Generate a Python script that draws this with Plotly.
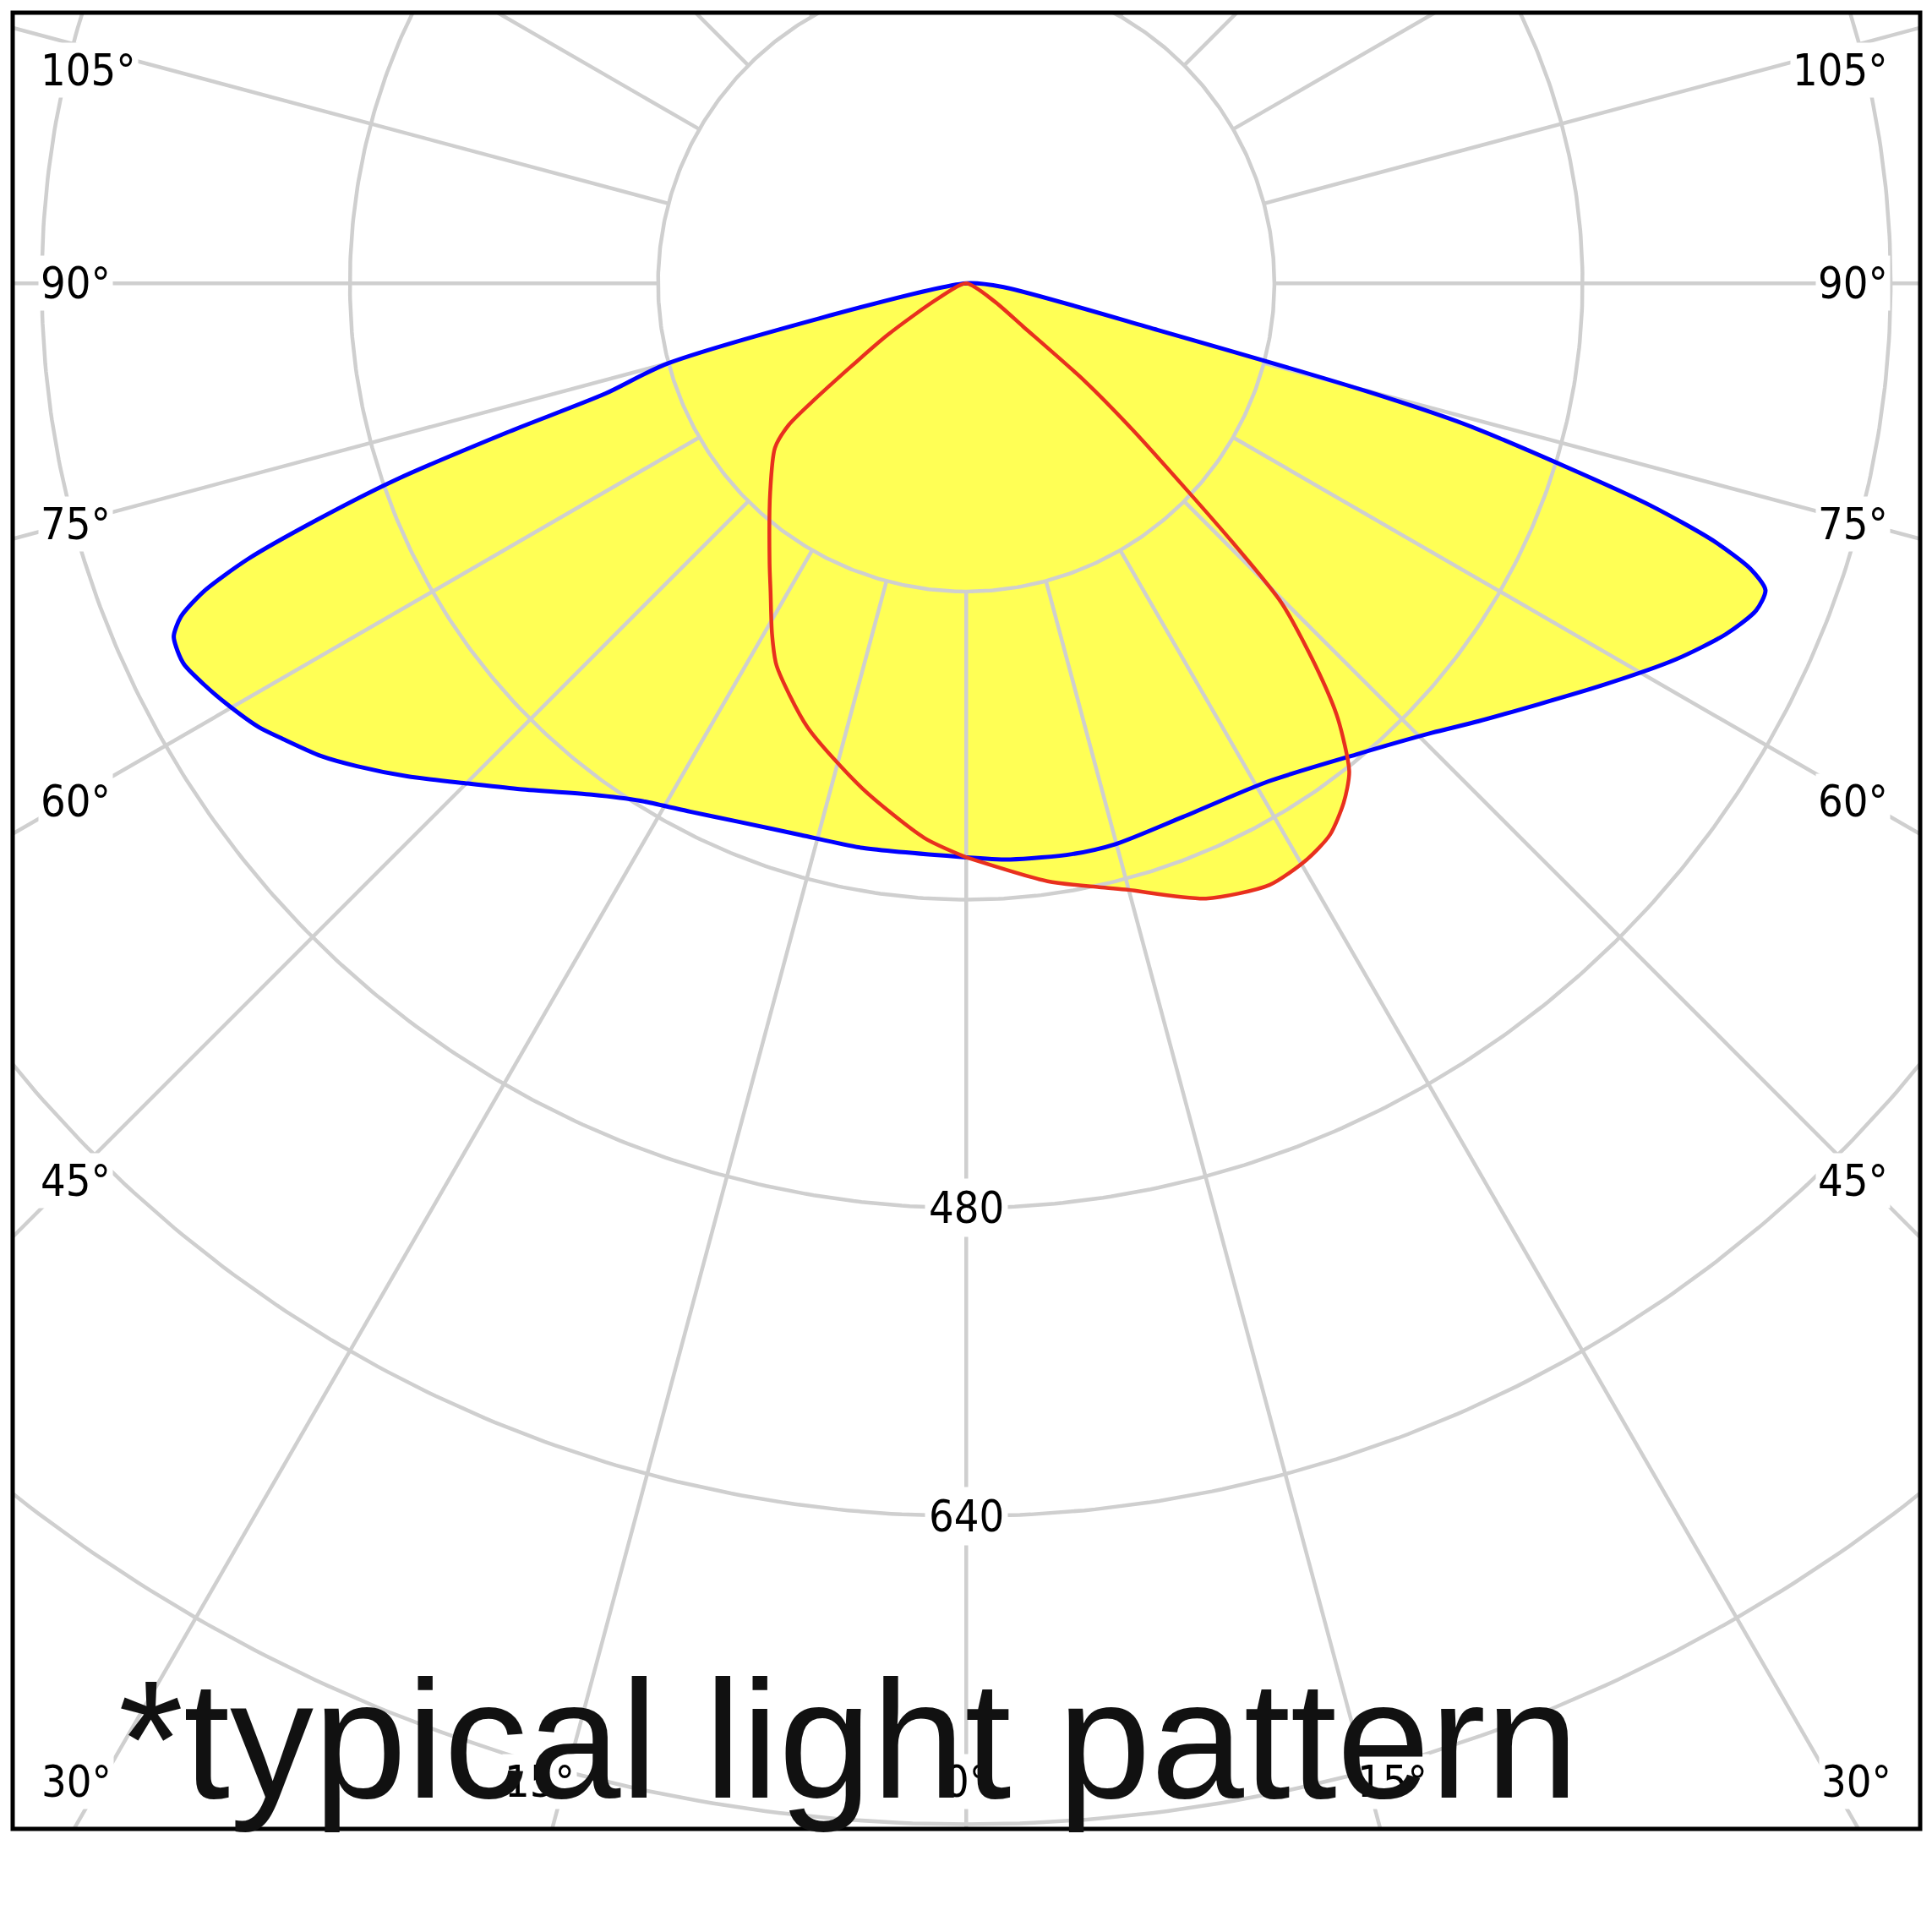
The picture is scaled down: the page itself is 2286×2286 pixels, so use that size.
import numpy as np
import plotly.graph_objects as go

# ---------------- data ----------------
# C0-C180 plane (blue). gamma in degrees from nadir, intensity in cd/klm
blue_left_gamma = [90, 75, 73, 72, 71, 70, 69, 68, 67, 66, 65, 64, 62.3, 60.3, 57.9, 56.3,
                   53.8, 51.6, 48.6, 44.9, 41.6, 36.2, 32.2, 27.6, 22.9, 16.7, 10.4, 0]
blue_left_I = [0, 160, 196, 251, 313, 358, 399.5, 427, 443, 450.4, 451.8, 451.7, 447.4, 441.5,
               433.6, 426.4, 415.4, 403.6, 387, 366.6, 351, 329, 317.5, 309.5, 303.5, 299, 298, 298]
blue_right_gamma = [0, 4.4, 10.5, 14.9, 22.1, 31.2, 39.6, 46, 49.5, 57.7, 62.1, 65.2, 67.5,
                    69, 70, 71, 72, 73, 74.2, 74.9, 76.3, 84, 90]
blue_right_I = [298, 300, 301.4, 301.3, 299, 302.4, 317.5, 336, 350, 390.6, 417.1, 434.4,
                443.9, 444.5, 433.3, 410, 374, 325, 270, 216, 102.5, 20, 0]

# C90-C270 plane (red)
red_left_gamma = [90, 61.6, 56.7, 52.5, 51.4, 49.3, 43.1, 35, 32.4, 29, 26.4, 19.7, 11.6, 4.3, 0]
red_left_I = [0, 16.6, 49, 100, 118, 131, 149, 178, 189.6, 208, 221.5, 244.7, 267.8, 288.8, 298]
red_right_gamma = [0, 7.75, 12.4, 14.9, 21.3, 26.75, 30.6, 33.4, 36, 38.1, 40.5, 42.2, 44.6,
                   45.8, 46.8, 48.6, 50.5, 52.8, 57.4, 90]
red_right_I = [298, 313.3, 321, 325.8, 342.8, 349.8, 347.5, 343, 333.4, 322.3, 297.1, 272.3,
               233.5, 192.8, 158.9, 116.1, 79.4, 37, 17.4, 0]

ring_values = [160, 320, 480, 640, 800]
ring_labels = [480, 640]
spoke_step = 15
side_label_angles = [45, 60, 75, 90, 105]
bottom_label_angles = [0, 15, 30]
note_text = "*typical light pattern"

# ---------------- geometry / style ----------------
W = H = 2278
ML, MR, MT, MB = 7, 14, 7, 122
X_RANGE = [-495.1, 495.3]
Y_RANGE = [-802.4, 140.5]
FILL = "#FFFF55"
GRID = "#CFCFCF"
LABEL_FONT = dict(family="DejaVu Sans Condensed, DejaVu Sans, sans-serif", size=52, color="#000000")


def to_xy(left_g, left_i, right_g, right_i):
    lg = np.radians(np.array(left_g, float))
    rg = np.radians(np.array(right_g, float))
    li = np.array(left_i, float)
    ri = np.array(right_i, float)
    x = np.concatenate([-li * np.sin(lg), ri * np.sin(rg)])
    y = np.concatenate([-li * np.cos(lg), -ri * np.cos(rg)])
    return x, y


bx, by = to_xy(blue_left_gamma, blue_left_I, blue_right_gamma, blue_right_I)
rx, ry = to_xy(red_left_gamma, red_left_I, red_right_gamma, red_right_I)

SMOOTH = 0.7
fig = go.Figure()

# fills
for x, y in [(bx, by), (rx, ry)]:
    fig.add_trace(go.Scatter(x=x, y=y, mode="lines", fill="toself", fillcolor=FILL,
                             line=dict(width=0, color=FILL, shape="spline", smoothing=SMOOTH),
                             hoverinfo="skip", showlegend=False))

# grid rings
t = np.linspace(0, 2 * np.pi, 721)
for r in ring_values:
    fig.add_trace(go.Scatter(x=r * np.sin(t), y=-r * np.cos(t), mode="lines",
                             line=dict(color=GRID, width=4.5), hoverinfo="skip", showlegend=False))
# spokes (from the first ring outward)
sx, sy = [], []
for a in range(0, 360, spoke_step):
    ar = np.radians(a)
    for rr in (ring_values[0], 2000):
        sx.append(rr * np.sin(ar))
        sy.append(-rr * np.cos(ar))
    sx.append(None)
    sy.append(None)
fig.add_trace(go.Scatter(x=sx, y=sy, mode="lines", line=dict(color=GRID, width=4.5),
                         hoverinfo="skip", showlegend=False))

# curves
fig.add_trace(go.Scatter(x=bx, y=by, mode="lines",
                         line=dict(color="#0000FF", width=5, shape="spline", smoothing=SMOOTH),
                         hoverinfo="skip", showlegend=False))
fig.add_trace(go.Scatter(x=rx, y=ry, mode="lines",
                         line=dict(color="#E8301E", width=4.5, shape="spline", smoothing=SMOOTH),
                         hoverinfo="skip", showlegend=False))

annotations = []
# side angle labels
xc = 466
for a in side_label_angles:
    ar = np.radians(a)
    yv = -xc * np.cos(ar) / np.sin(ar)
    yv = min(yv, Y_RANGE[1] - 30)
    annotations.append(dict(x=-482, y=yv, text=f"{a}°", xanchor="left", yanchor="middle",
                            showarrow=False, font=LABEL_FONT, bgcolor="white", borderpad=2))
    annotations.append(dict(x=480, y=yv, text=f"{a}°", xanchor="right", yanchor="middle",
                            showarrow=False, font=LABEL_FONT, bgcolor="white", borderpad=2))
# bottom angle labels
yb = -778
for a in bottom_label_angles:
    xv = -yb * np.tan(np.radians(a))
    if a == 0:
        annotations.append(dict(x=0, y=yb, text=f"{a}°", xanchor="center", yanchor="middle",
                                showarrow=False, font=LABEL_FONT, bgcolor="white", borderpad=2))
    else:
        for s in (-1, 1):
            annotations.append(dict(x=s * (xv + 13), y=yb, text=f"{a}°", xanchor="center",
                                    yanchor="middle", showarrow=False, font=LABEL_FONT,
                                    bgcolor="white", borderpad=2))
# radial labels
for r in ring_labels:
    annotations.append(dict(x=0, y=-r, text=str(r), xanchor="center", yanchor="middle",
                            showarrow=False, font=LABEL_FONT, bgcolor="white", borderpad=4))
# note
annotations.append(dict(x=0.0545, y=0.0491, xref="paper", yref="paper", text=note_text,
                        xanchor="left", yanchor="middle", showarrow=False,
                        font=dict(family="Liberation Sans, Arial, sans-serif", size=198,
                                  color="#111111")))

fig.update_layout(
    width=W, height=H,
    margin=dict(l=ML, r=MR, t=MT, b=MB, pad=0),
    paper_bgcolor="white", plot_bgcolor="white",
    xaxis=dict(range=X_RANGE, visible=False, fixedrange=True),
    yaxis=dict(range=Y_RANGE, visible=False, fixedrange=True),
    annotations=annotations,
    shapes=[dict(type="rect", xref="paper", yref="paper", x0=0, x1=1, y0=0, y1=1,
                 line=dict(color="black", width=5), layer="above")],
    showlegend=False,
)

fig.write_html("out.html")
